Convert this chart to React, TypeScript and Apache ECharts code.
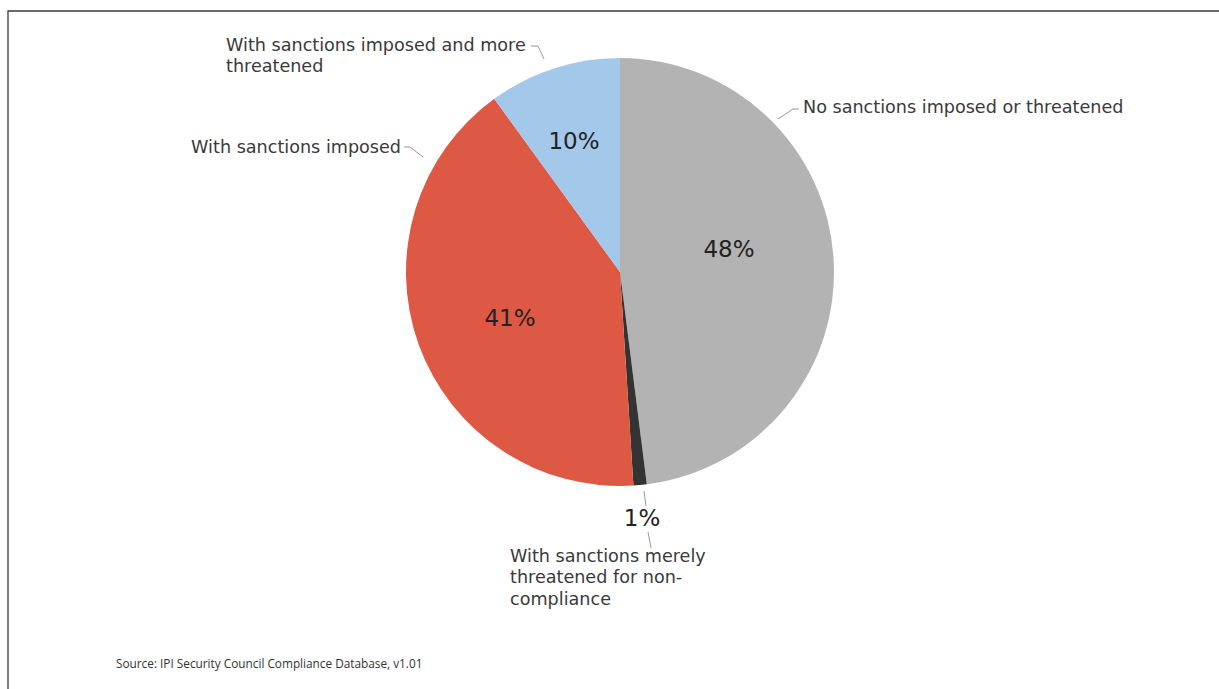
import React, { useEffect, useRef } from "react";
import * as echarts from "echarts";

const categories = [
  "No sanctions imposed or threatened",
  "With sanctions merely\nthreatened for non-\ncompliance",
  "With sanctions imposed",
  "With sanctions imposed and more\nthreatened",
];
const values = [48, 1, 41, 10];
const percentLabels = ["48%", "1%", "41%", "10%"];
const colors = ["#b3b3b3", "#333333", "#dd5944", "#a3c8ea"];
const sourceText = "Source: IPI Security Council Compliance Database, v1.01";

// label placement (layout only)
const pctPos = [
  { x: 729, y: 249 },
  { x: 642, y: 518 },
  { x: 510, y: 318 },
  { x: 574, y: 141 },
];
const namePos = [
  { x: 803, y: 107, align: "left", verticalAlign: "middle" },
  { x: 510, y: 545, align: "left", verticalAlign: "top" },
  { x: 401, y: 147, align: "right", verticalAlign: "middle" },
  { x: 226, y: 34, align: "left", verticalAlign: "top" },
];
const nameLines = [
  [[778, 119], [793, 109], [799, 109]],
  [[648, 532], [651, 548]],
  [[423, 157], [410, 147], [404, 147]],
  [[544, 59], [538, 46], [531, 46]],
];
const pctLines: Record<number, number[][]> = {
  1: [[644, 491], [646, 506]],
};

const LABEL_FONT = "DejaVu Sans";

export default function App() {
  const ref = useRef<HTMLDivElement>(null);
  useEffect(() => {
    if (!ref.current) return;
    const chart = echarts.init(ref.current, null, { renderer: "svg" });
    const center = [620, 272];
    const radius = 214;
    chart.setOption({
      animation: false,
      backgroundColor: "#ffffff",
      graphic: [
        {
          type: "rect",
          shape: { x: 8, y: 11, width: 1400, height: 900 },
          style: { fill: "none", stroke: "#3a3a3a", lineWidth: 1.3 },
          silent: true,
        },
        {
          type: "text",
          left: 116,
          top: 657,
          style: {
            text: sourceText,
            fontFamily: "Open Sans",
            fontSize: 11.8,
            fill: "#333333",
          },
        },
      ],
      series: [
        {
          type: "pie",
          center,
          radius,
          startAngle: 90,
          clockwise: true,
          silent: true,
          itemStyle: { borderWidth: 0 },
          label: {
            show: true,
            position: "outside",
            formatter: (p: any) => percentLabels[p.dataIndex],
            fontFamily: LABEL_FONT,
            fontSize: 23,
            color: "#222222",
          },
          labelLine: {
            show: true,
            lineStyle: { color: "#999999", width: 1 },
          },
          labelLayout: (p: any) => {
            const pos = pctPos[p.dataIndex];
            const res: any = {
              x: pos.x,
              y: pos.y,
              align: "center",
              verticalAlign: "middle",
            };
            if (pctLines[p.dataIndex]) res.labelLinePoints = pctLines[p.dataIndex];
            return res;
          },
          data: values.map((v, i) => ({
            value: v,
            name: categories[i],
            itemStyle: { color: colors[i] },
            labelLine: { show: !!pctLines[i] },
          })),
        },
        {
          type: "pie",
          center,
          radius,
          startAngle: 90,
          clockwise: true,
          silent: true,
          itemStyle: { color: "rgba(0,0,0,0)", borderWidth: 0 },
          label: {
            show: true,
            position: "outside",
            formatter: "{b}",
            fontFamily: LABEL_FONT,
            fontSize: 17.6,
            lineHeight: 21.5,
            color: "#3a3a3a",
          },
          labelLine: {
            show: true,
            lineStyle: { color: "#999999", width: 1 },
          },
          labelLayout: (p: any) => {
            const pos = namePos[p.dataIndex];
            return {
              x: pos.x,
              y: pos.y,
              align: pos.align,
              verticalAlign: pos.verticalAlign,
              labelLinePoints: nameLines[p.dataIndex],
            };
          },
          data: values.map((v, i) => ({ value: v, name: categories[i] })),
        },
      ],
    });
    return () => chart.dispose();
  }, []);
  return (
    <div
      ref={ref}
      style={{ position: "fixed", left: 0, top: 0, width: 1219, height: 689 }}
    />
  );
}
